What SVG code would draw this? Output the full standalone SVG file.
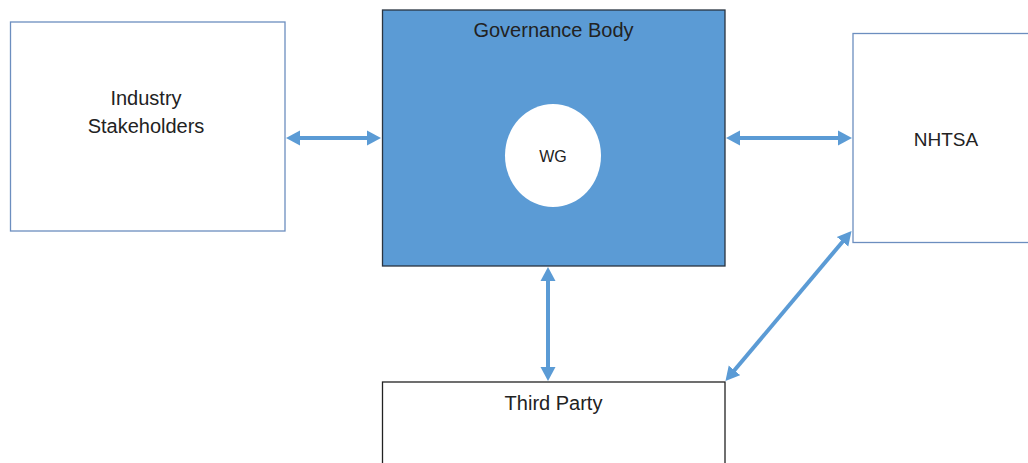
<svg xmlns="http://www.w3.org/2000/svg" width="1028" height="463" viewBox="0 0 1028 463">
<style>
  .lbl { font-family: "Liberation Sans", Arial, sans-serif; fill: #222; text-anchor: middle; }
  .box { fill: #ffffff; stroke: #6c8ebf; stroke-width: 1.3; }
  .conn { stroke: #5B9BD5; stroke-width: 4; fill: none; marker-start: url(#ah); marker-end: url(#ah); }
</style>
<defs>
  <marker id="ah" markerUnits="userSpaceOnUse" markerWidth="16" markerHeight="16" refX="4" refY="7.5" orient="auto-start-reverse" viewBox="0 0 16 15">
    <path d="M0,0 L14,7.5 L0,15 z" fill="#5B9BD5"/>
  </marker>
</defs>
<rect width="1028" height="463" fill="#ffffff"/>
<g id="industry">
  <rect class="box" x="10.5" y="22" width="274.5" height="209"/>
  <text class="lbl" x="146" y="105" font-size="20">Industry</text>
  <text class="lbl" x="146" y="133" font-size="20">Stakeholders</text>
</g>
<g id="governance">
  <rect x="382.5" y="10" width="342.5" height="256" fill="#5B9BD5" stroke="#2a3440" stroke-width="1.3"/>
  <text class="lbl" x="553.5" y="37" font-size="20">Governance Body</text>
</g>
<g id="wg">
  <ellipse cx="553" cy="155.5" rx="48" ry="51.5" fill="#ffffff"/>
  <text class="lbl" x="553" y="162" font-size="16">WG</text>
</g>
<g id="nhtsa">
  <rect class="box" x="853" y="33.5" width="180" height="209"/>
  <text class="lbl" x="946" y="146" font-size="19">NHTSA</text>
</g>
<g id="thirdparty">
  <rect x="382.5" y="382" width="342.5" height="100" fill="#ffffff" stroke="#222" stroke-width="1.3"/>
  <text class="lbl" x="553.5" y="410" font-size="20">Third Party</text>
</g>
<g id="connectors">
  <line class="conn" x1="296" y1="138" x2="371" y2="138"/>
  <line class="conn" x1="736" y1="138" x2="842" y2="138"/>
  <line class="conn" x1="548" y1="277" x2="548" y2="371"/>
  <line class="conn" x1="845.1" y1="238.7" x2="731.9" y2="373.3"/>
</g>
</svg>
